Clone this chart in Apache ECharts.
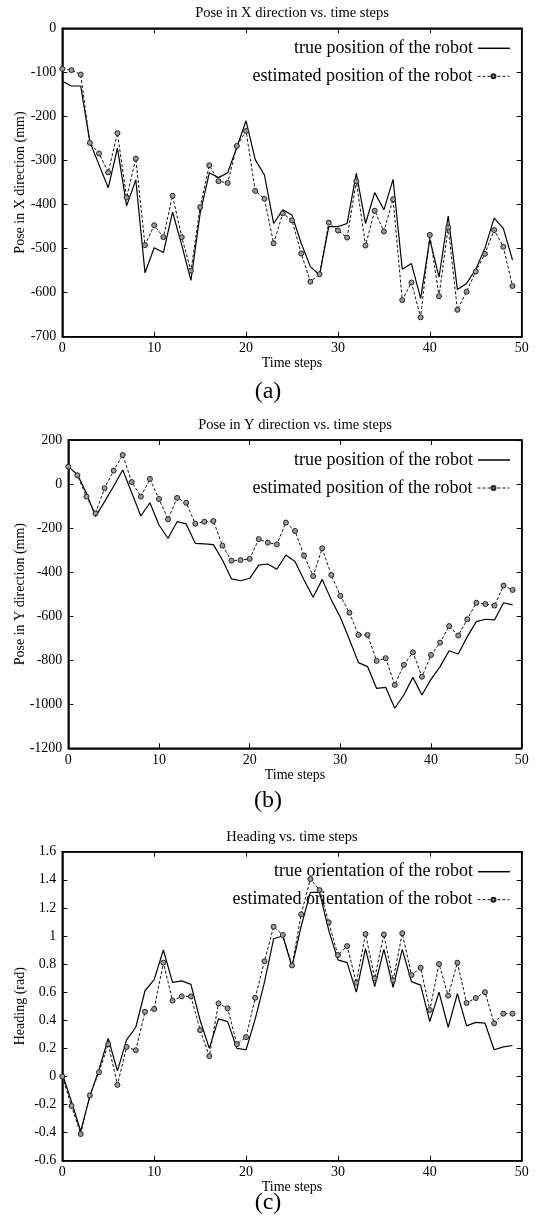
<!DOCTYPE html>
<html>
<head>
<meta charset="utf-8">
<script src="https://cdn.jsdelivr.net/npm/echarts@6/dist/echarts.min.js"></script>
<style>
  html, body { margin: 0; padding: 0; background: #fff; }
  #main { width: 536px; height: 1226px; }
</style>
</head>
<body>
<div id="main"></div>
<script>
// time steps 0..49 are the index of each value
var xTrue = [-120, -131, -131, -258, -310, -362, -272, -403, -344, -555,
  -498, -509, -417, -492, -572, -420, -328, -339, -328, -270,
  -210, -298, -333, -443, -412, -424, -488, -541, -560, -450,
  -450, -443, -329, -443, -373, -412, -343, -547, -534, -613,
  -479, -565, -426, -593, -579, -547, -499, -431, -454, -526];
var xEst = [-92, -95, -105, -260, -284, -327, -238, -384, -296, -492,
  -447, -474, -380, -474, -550, -406, -311, -347, -351, -267,
  -233, -369, -387, -488, -420, -436, -511, -575, -558, -441,
  -459, -475, -347, -493, -414, -461, -388, -617, -577, -656,
  -469, -608, -452, -639, -598, -552, -512, -458, -496, -585];

var yTrue = [79, 44, -42, -148, -80, -10, 64, -40, -145, -85,
  -186, -246, -171, -181, -269, -272, -275, -345, -431, -439,
  -428, -368, -363, -387, -322, -352, -436, -514, -433, -526,
  -605, -706, -811, -829, -928, -923, -1018, -958, -878, -958,
  -887, -829, -757, -772, -693, -625, -614, -617, -539, -549];
var yEst = [79, 40, -57, -133, -19, 61, 132, 9, -57, 23,
  -68, -160, -63, -85, -180, -171, -168, -280, -348, -345,
  -340, -250, -266, -274, -175, -213, -325, -418, -292, -413,
  -508, -584, -685, -685, -803, -791, -912, -821, -764, -875,
  -776, -720, -645, -688, -614, -539, -545, -552, -461, -481];

var hTrue = [0.02, -0.18, -0.39, -0.14, 0.05, 0.27, 0.04, 0.26, 0.35, 0.61,
  0.69, 0.90, 0.67, 0.68, 0.655, 0.40, 0.2, 0.41, 0.39, 0.2,
  0.19, 0.41, 0.67, 0.98, 1.0, 0.78, 1.07, 1.31, 1.31, 1.04,
  0.83, 0.81, 0.6, 0.91, 0.64, 0.905, 0.635, 0.905, 0.675, 0.65,
  0.39, 0.6, 0.35, 0.59, 0.36, 0.385, 0.38, 0.19, 0.21, 0.22];
var hEst = [0, -0.21, -0.41, -0.135, 0.03, 0.23, -0.06, 0.21, 0.186, 0.46,
  0.48, 0.81, 0.54, 0.57, 0.57, 0.33, 0.145, 0.52, 0.485, 0.23,
  0.28, 0.56, 0.82, 1.066, 1.007, 0.79, 1.154, 1.405, 1.327, 1.097,
  0.864, 0.928, 0.667, 1.014, 0.698, 1.011, 0.684, 1.019, 0.722, 0.774,
  0.473, 0.80, 0.575, 0.81, 0.523, 0.558, 0.60, 0.378, 0.447, 0.447];

var FONT = 'Liberation Serif';
var RIGHT_EDGE = 521.7;

var panels = [
  {
    title: 'Pose in X direction vs. time steps', yName: 'Pose in X direction (mm)', caption: '(a)',
    left: 62.3, top: 28.3, height: 308.4, min: -700, max: 0, interval: 100, nameGap: 35,
    trueName: 'true position of the robot', estName: 'estimated position of the robot',
    trueData: xTrue, estData: xEst, captionY: 392
  },
  {
    title: 'Pose in Y direction vs. time steps', yName: 'Pose in Y direction (mm)', caption: '(b)',
    left: 68.3, top: 440, height: 308.3, min: -1200, max: 200, interval: 200, nameGap: 41,
    trueName: 'true position of the robot', estName: 'estimated position of the robot',
    trueData: yTrue, estData: yEst, captionY: 801
  },
  {
    title: 'Heading vs. time steps', yName: 'Heading (rad)', caption: '(c)',
    left: 62.3, top: 851.7, height: 309, min: -0.6, max: 1.6, interval: 0.2, nameGap: 35,
    trueName: 'true orientation of the robot', estName: 'estimated orientation of the robot',
    trueData: hTrue, estData: hEst, captionY: 1203
  }
];

var txt = function (size) {
  return { fontFamily: FONT, fontSize: size, color: '#000', fontWeight: 'normal' };
};

var option = { animation: false, title: [], legend: [], grid: [], xAxis: [], yAxis: [], series: [] };

panels.forEach(function (p, k) {
  var mid = (p.left + RIGHT_EDGE) / 2;

  option.grid.push({
    left: p.left, top: p.top, width: RIGHT_EDGE - p.left, height: p.height,
    show: true, borderColor: '#000', borderWidth: 1.5
  });

  // bottom + mirrored top axis, left + mirrored right axis (gnuplot style box)
  ['bottom', 'top'].forEach(function (pos) {
    option.xAxis.push({
      type: 'value', gridIndex: k, position: pos, min: 0, max: 50, interval: 10,
      name: pos === 'bottom' ? 'Time steps' : '', nameLocation: 'middle', nameGap: 20,
      nameMoveOverlap: false, nameTextStyle: txt(14),
      axisLine: { onZero: false, lineStyle: { color: '#000', width: 1.5 } },
      axisTick: { inside: true, length: 5, lineStyle: { color: '#000', width: 1 } },
      axisLabel: { show: pos === 'bottom', margin: 5, fontFamily: FONT, fontSize: 14, color: '#000' },
      splitLine: { show: false }
    });
  });
  ['left', 'right'].forEach(function (pos) {
    option.yAxis.push({
      type: 'value', gridIndex: k, position: pos, min: p.min, max: p.max, interval: p.interval,
      name: pos === 'left' ? p.yName : '', nameLocation: 'middle', nameGap: p.nameGap,
      nameMoveOverlap: false, nameTextStyle: txt(14),
      axisLine: { onZero: false, lineStyle: { color: '#000', width: 1.5 } },
      axisTick: { inside: true, length: 5, lineStyle: { color: '#000', width: 1 } },
      axisLabel: {
        show: pos === 'left', margin: 6, fontFamily: FONT, fontSize: 14, color: '#000',
        formatter: function (v) { return String(+v.toFixed(2)); } // no thousands comma
      },
      splitLine: { show: false }
    });
  });

  option.series.push({
    type: 'line', name: p.trueName, xAxisIndex: 2 * k, yAxisIndex: 2 * k,
    data: p.trueData.map(function (v, i) { return [i, v]; }),
    symbol: 'none', lineStyle: { color: '#000', width: 1.2 }, itemStyle: { color: '#000' }
  });
  option.series.push({
    type: 'line', name: p.estName, xAxisIndex: 2 * k, yAxisIndex: 2 * k,
    data: p.estData.map(function (v, i) { return [i, v]; }),
    symbol: 'circle', symbolSize: 5, showSymbol: true,
    lineStyle: { color: '#111', width: 1, type: [3, 2] },
    itemStyle: { color: '#999', borderColor: '#222', borderWidth: 1 }
  });

  // one legend per entry so both right edges line up
  option.legend.push({
    data: [{ name: p.trueName, icon: 'rect' }], right: 26, top: p.top + 20 - 9, padding: 0,
    align: 'right', itemWidth: 32, itemHeight: 1.5, selectedMode: false, textStyle: txt(18)
  });
  option.legend.push({
    data: [p.estName], right: 26, top: p.top + 48 - 9, padding: 0,
    align: 'right', itemWidth: 32, itemHeight: 5, selectedMode: false, textStyle: txt(18),
    lineStyle: { width: 1 }
  });

  option.title.push({
    text: p.title, left: mid, top: p.top - 15, textAlign: 'center', textVerticalAlign: 'middle',
    padding: 0, textStyle: txt(14.5)
  });
  option.title.push({
    text: p.caption, left: 268, top: p.captionY, textAlign: 'center', textVerticalAlign: 'middle',
    padding: 0, textStyle: txt(24)
  });
});

var myChart = echarts.init(document.getElementById('main'));
myChart.setOption(option);
</script>
</body>
</html>
